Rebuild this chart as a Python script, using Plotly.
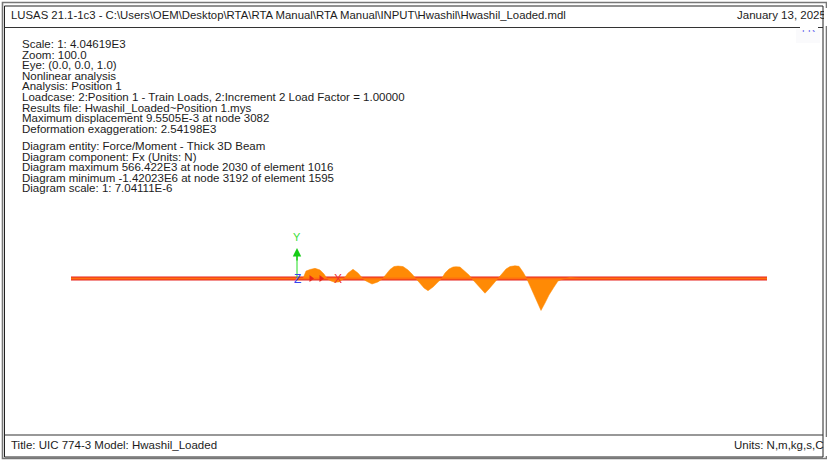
#!/usr/bin/env python3
"""LUSAS beam force diagram (Fx) - Hwashil_Loaded, Position 1"""

import plotly.graph_objects as go

W = 827
H = 460
BASE_Y = 278.5      # beam level in screen px
KN_PER_PX = 44.4    # diagram scale, read from the peak

header_left = "LUSAS 21.1-1c3 - C:\\Users\\OEM\\Desktop\\RTA\\RTA Manual\\RTA Manual\\INPUT\\Hwashil\\Hwashil_Loaded.mdl"
header_right = "January 13, 2025"
footer_left = "Title: UIC 774-3 Model: Hwashil_Loaded"
footer_right = "Units: N,m,kg,s,C"

info_lines = [
    "Scale: 1: 4.04619E3",
    "Zoom: 100.0",
    "Eye: (0.0, 0.0, 1.0)",
    "Nonlinear analysis",
    "Analysis: Position 1",
    "Loadcase: 2:Position 1 - Train Loads, 2:Increment 2 Load Factor = 1.00000",
    "Results file: Hwashil_Loaded~Position 1.mys",
    "Maximum displacement 9.5505E-3 at node 3082",
    "Deformation exaggeration: 2.54198E3",
]
diagram_lines = [
    "Diagram entity: Force/Moment - Thick 3D Beam",
    "Diagram component: Fx (Units: N)",
    "Diagram maximum 566.422E3 at node 2030 of element 1016",
    "Diagram minimum -1.42023E6 at node 3192 of element 1595",
    "Diagram scale: 1: 7.04111E-6",
]

# beam ends and diagram stations (screen x), axial force in kN
beam_x = [71, 767]
beam_fx = [0, 0]
station_x = [
    303, 306, 310, 315, 320, 324, 327,
    331, 335, 339, 344,
    348, 353, 358, 362.7,
    366, 372, 378, 382.7,
    386, 390, 394, 398, 403, 408, 412, 416,
    420, 424, 428, 433, 438, 441.7,
    445, 449, 453, 456, 460, 465, 469, 471.7,
    476, 480, 485, 489, 494, 498.3,
    502, 506, 510, 515, 519, 523, 526.7,
    530, 534, 538, 541, 545, 549, 554, 558, 561.7, 570, 580,
]
fx_kn = [
    0, 330, 400, 450, 380, 200, 0,
    -110, -170, -150, 0,
    240, 410, 240, 0,
    -110, -245, -150, 0,
    200, 400, 530, 555, 530, 380, 200, 0,
    -200, -420, -540, -380, -160, 0,
    245, 420, 510, 525, 510, 330, 155, 0,
    -200, -420, -655, -465, -200, 0,
    245, 420, 530, 566, 540, 290, 0,
    -330, -730, -1130, -1420, -1090, -730, -380, -110, -40, 45, 0,
]

# support markers along the beam
support_x = [311, 321]
support_fx = [0, 0]


def px(x):
    return x / W


def py(y):
    return 1 - y / H


def box(x0, y0, x1, y1, color, width=1, fill=None):
    return dict(type="rect", xref="paper", yref="paper", x0=px(x0), x1=px(x1), y0=py(y0), y1=py(y1),
                line=dict(color=color, width=width), fillcolor=fill, layer="below")


def label(text, x, y, anchor="left", size=11.5, color="#1c1c1c", family="Liberation Sans"):
    return dict(text=text, xref="paper", yref="paper", x=px(x), y=py(y), xanchor=anchor, yanchor="middle",
                showarrow=False, borderpad=0, font=dict(size=size, color=color, family=family))


def mask(x0, y0, x1, y1, color="white"):
    return dict(text=" ", xref="paper", yref="paper", x=px(x0), y=py(y0), xanchor="left", yanchor="top",
                showarrow=False, width=x1 - x0, height=y1 - y0, bgcolor=color, borderpad=0, borderwidth=0,
                font=dict(size=1))


fig = go.Figure()
fig.add_trace(go.Scatter(x=beam_x, y=beam_fx, mode="lines", line=dict(color="#e6221e", width=4.2), hoverinfo="skip"))
fig.add_trace(go.Scatter(x=station_x, y=fx_kn, mode="lines", fill="tozeroy", fillcolor="#ff8a05",
                         line=dict(color="#ff8a05", width=0.5), hoverinfo="skip"))
fig.add_trace(go.Scatter(x=beam_x, y=beam_fx, mode="lines", line=dict(color="#ff7010", width=1.8), hoverinfo="skip"))
fig.add_trace(go.Scatter(x=support_x, y=support_fx, mode="markers", hoverinfo="skip",
                         marker=dict(symbol="triangle-right", size=6, color="#e8281c")))

shapes = [
    box(2.5, 2.5, 826.5, 458.5, "#777777", 1.6),
    box(4.5, 6, 823, 457, "#222222", 1),
    dict(type="line", xref="paper", yref="paper", x0=px(4.5), x1=px(823), y0=py(27.5), y1=py(27.5),
         line=dict(color="#333333", width=1.2), layer="below"),
    dict(type="line", xref="paper", yref="paper", x0=px(4.5), x1=px(823), y0=py(435), y1=py(435),
         line=dict(color="#333333", width=1.2), layer="below"),
    box(796, 29, 820, 43, "#fafafc", 0, "#fafafc"),
    dict(type="line", xref="paper", yref="paper", x0=px(297), x1=px(297), y0=py(278), y1=py(252),
         line=dict(color="#22dd22", width=1), layer="above"),
]

annotations = []
for i, t in enumerate(info_lines):
    annotations.append(label(t, 21, 44 + i * 10.6))
for i, t in enumerate(diagram_lines):
    annotations.append(label(t, 21, 146 + i * 10.6))

annotations.append(label("FR", 808, 29, "center", 10, "#6666ee"))
annotations.append(mask(800, 22, 818, 30))
annotations.append(dict(xref="paper", yref="paper", axref="pixel", ayref="pixel", x=px(297), y=py(248), ax=0, ay=14,
                        showarrow=True, arrowhead=2, arrowsize=1.2, arrowwidth=1.4, arrowcolor="#16cc16", text=""))
annotations.append(label(header_left, 10, 15, size=11.35))
annotations.append(label(header_right, 736, 15))
annotations.append(label(footer_left, 10, 445))
annotations.append(label(footer_right, 733, 445))
annotations.append(mask(823.5, 8, 826, 26))
annotations.append(mask(823.5, 437, 826, 456))
annotations.append(label("Y", 297, 237, "center", 11, "#3be03b"))
annotations.append(label("Z", 297, 279, "center", 12, "#3344ee"))
annotations.append(label("X", 338, 279, "center", 12, "#ee3333"))

fig.update_layout(
    width=W,
    height=H,
    margin=dict(l=0, r=0, t=0, b=0),
    paper_bgcolor="white",
    plot_bgcolor="white",
    showlegend=False,
    shapes=shapes,
    annotations=annotations,
    xaxis=dict(range=[0, W], visible=False, fixedrange=True),
    yaxis=dict(range=[-(H - BASE_Y) * KN_PER_PX, BASE_Y * KN_PER_PX], visible=False, fixedrange=True),
)

fig.write_html("out.html", config={"displayModeBar": False},
               post_script="document.body.style.margin='0';document.body.style.overflow='hidden';")
